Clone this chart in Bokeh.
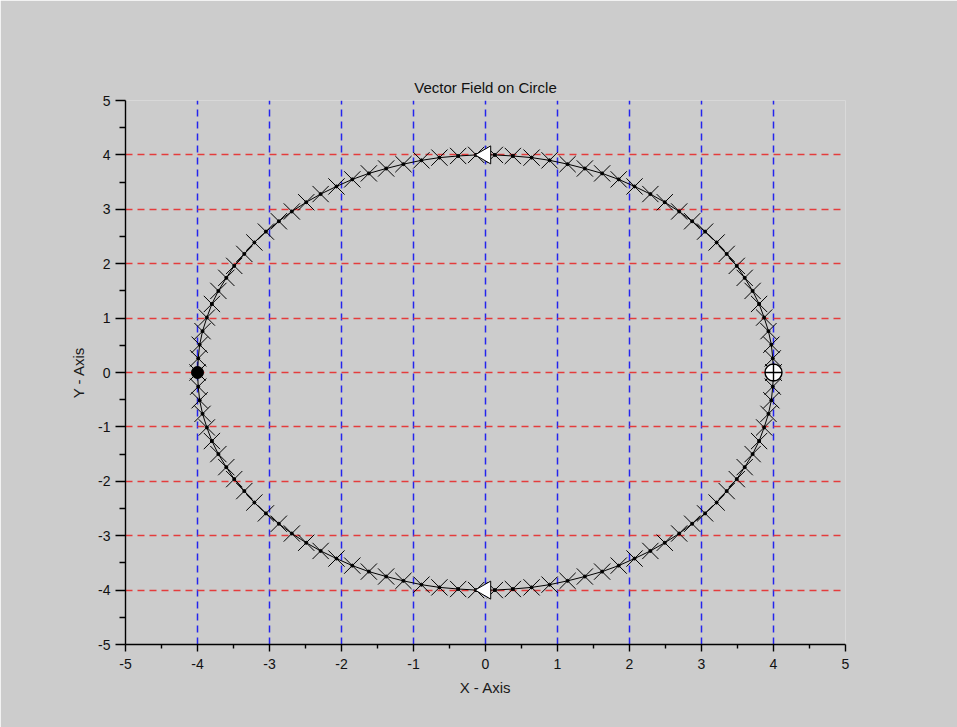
from bokeh.plotting import figure
from bokeh.embed import file_html
from bokeh.resources import INLINE
from bokeh.models import FixedTicker, Range1d, ColumnDataSource

# --- data (points on the circle of radius 4) ---
circle_x = [4.00, 3.99, 3.97, 3.93, 3.87, 3.80, 3.71, 3.60, 3.49, 3.35, 3.21, 3.05, 2.87, 2.69, 2.49,
            2.29, 2.07, 1.85, 1.62, 1.38, 1.14, 0.89, 0.64, 0.38, 0.13,
            -0.13, -0.38, -0.64, -0.89, -1.14, -1.38, -1.62, -1.85, -2.07, -2.29, -2.49, -2.69, -2.87,
            -3.05, -3.21, -3.35, -3.49, -3.60, -3.71, -3.80, -3.87, -3.93, -3.97, -3.99, -4.00,
            -3.99, -3.97, -3.93, -3.87, -3.80, -3.71, -3.60, -3.49, -3.35, -3.21, -3.05, -2.87, -2.69,
            -2.49, -2.29, -2.07, -1.85, -1.62, -1.38, -1.14, -0.89, -0.64, -0.38, -0.13,
            0.13, 0.38, 0.64, 0.89, 1.14, 1.38, 1.62, 1.85, 2.07, 2.29, 2.49, 2.69, 2.87, 3.05, 3.21,
            3.35, 3.49, 3.60, 3.71, 3.80, 3.87, 3.93, 3.97, 3.99, 4.00]
circle_y = [0.00, 0.26, 0.51, 0.76, 1.01, 1.26, 1.50, 1.74, 1.96, 2.18, 2.39, 2.59, 2.78, 2.96, 3.13,
            3.28, 3.42, 3.55, 3.66, 3.75, 3.83, 3.90, 3.95, 3.98, 4.00,
            4.00, 3.98, 3.95, 3.90, 3.83, 3.75, 3.66, 3.55, 3.42, 3.28, 3.13, 2.96, 2.78, 2.59, 2.39,
            2.18, 1.96, 1.74, 1.50, 1.26, 1.01, 0.76, 0.51, 0.26, 0.00,
            -0.26, -0.51, -0.76, -1.01, -1.26, -1.50, -1.74, -1.96, -2.18, -2.39, -2.59, -2.78, -2.96,
            -3.13, -3.28, -3.42, -3.55, -3.66, -3.75, -3.83, -3.90, -3.95, -3.98, -4.00,
            -4.00, -3.98, -3.95, -3.90, -3.83, -3.75, -3.66, -3.55, -3.42, -3.28, -3.13, -2.96, -2.78,
            -2.59, -2.39, -2.18, -1.96, -1.74, -1.50, -1.26, -1.01, -0.76, -0.51, -0.26, 0.00]

triangle_x = [0, 0]
triangle_y = [4, -4]
dot_x = [-4]
dot_y = [0]
crossed_x = [4]
crossed_y = [0]

ticks = [-5, -4, -3, -2, -1, 0, 1, 2, 3, 4, 5]
tick_labels = ["-5", "-4", "-3", "-2", "-1", "0", "1", "2", "3", "4", "5"]
minor_ticks = [-4.5, -3.5, -2.5, -1.5, -0.5, 0.5, 1.5, 2.5, 3.5, 4.5]

BG = "#cccccc"
FONT = "Liberation Sans"

p = figure(width=957, height=727, output_backend="svg", toolbar_location=None,
           x_range=Range1d(-5, 5), y_range=Range1d(-5, 5),
           title="Vector Field on Circle",
           min_border_left=125, min_border_right=112,
           min_border_top=100, min_border_bottom=83)
p.background_fill_color = BG
p.border_fill_color = BG
p.outline_line_color = None

p.title.align = "center"
p.title.text_font = FONT
p.title.text_font_size = "15px"
p.title.text_font_style = "normal"
p.title.text_color = "#111111"
p.title.offset = -9
p.title.standoff = 9

for ax, lab in ((p.xaxis, "X - Axis"), (p.yaxis, "Y - Axis")):
    ax.ticker = FixedTicker(ticks=ticks, minor_ticks=minor_ticks)
    ax.major_label_overrides = {t: s for t, s in zip(ticks, tick_labels)}
    ax.axis_label = lab
    ax.axis_label_text_font = FONT
    ax.axis_label_text_font_size = "15px"
    ax.axis_label_text_font_style = "normal"
    ax.axis_label_text_color = "#1a1a1a"
    ax.major_label_text_font = FONT
    ax.major_label_text_font_size = "14px"
    ax.major_label_text_color = "#111111"
    ax.axis_line_color = "black"
    ax.axis_line_width = 1.4
    ax.major_tick_line_color = "black"
    ax.minor_tick_line_color = "black"
    ax.major_tick_line_width = 1.4
    ax.minor_tick_line_width = 1.4
    ax.major_tick_in = 0
    ax.minor_tick_in = 0

p.xaxis.major_tick_out = 7
p.xaxis.minor_tick_out = 4
p.yaxis.major_tick_out = 10
p.yaxis.minor_tick_out = 6
p.xaxis.major_label_standoff = 7
p.yaxis.major_label_standoff = 5
p.xaxis.axis_label_standoff = 7
p.yaxis.axis_label_standoff = 8

p.xgrid.grid_line_color = "#2424ee"
p.xgrid.grid_line_dash = "7 5"
p.xgrid.grid_line_width = 1.5
p.ygrid.grid_line_color = "#e43c3c"
p.ygrid.grid_line_dash = "7 5"
p.ygrid.grid_line_width = 1.5

src = ColumnDataSource(dict(x=circle_x, y=circle_y))
p.line("x", "y", source=src, line_color="black", line_width=1)
p.scatter("x", "y", source=src, marker="x", size=23, line_color="black", line_width=1)
p.scatter("x", "y", source=src, marker="circle", size=3, fill_color="black", line_color="black")

p.scatter(triangle_x, triangle_y, marker="triangle", size=18, angle=1.5708,
          fill_color="white", line_color="black", line_width=1)
p.scatter(dot_x, dot_y, marker="circle", size=12, fill_color="black", line_color="black")
p.scatter(crossed_x, crossed_y, marker="circle_cross", size=17,
          fill_color="white", line_color="black", line_width=1.4)

open("out.html", "w").write(file_html(p, INLINE))
